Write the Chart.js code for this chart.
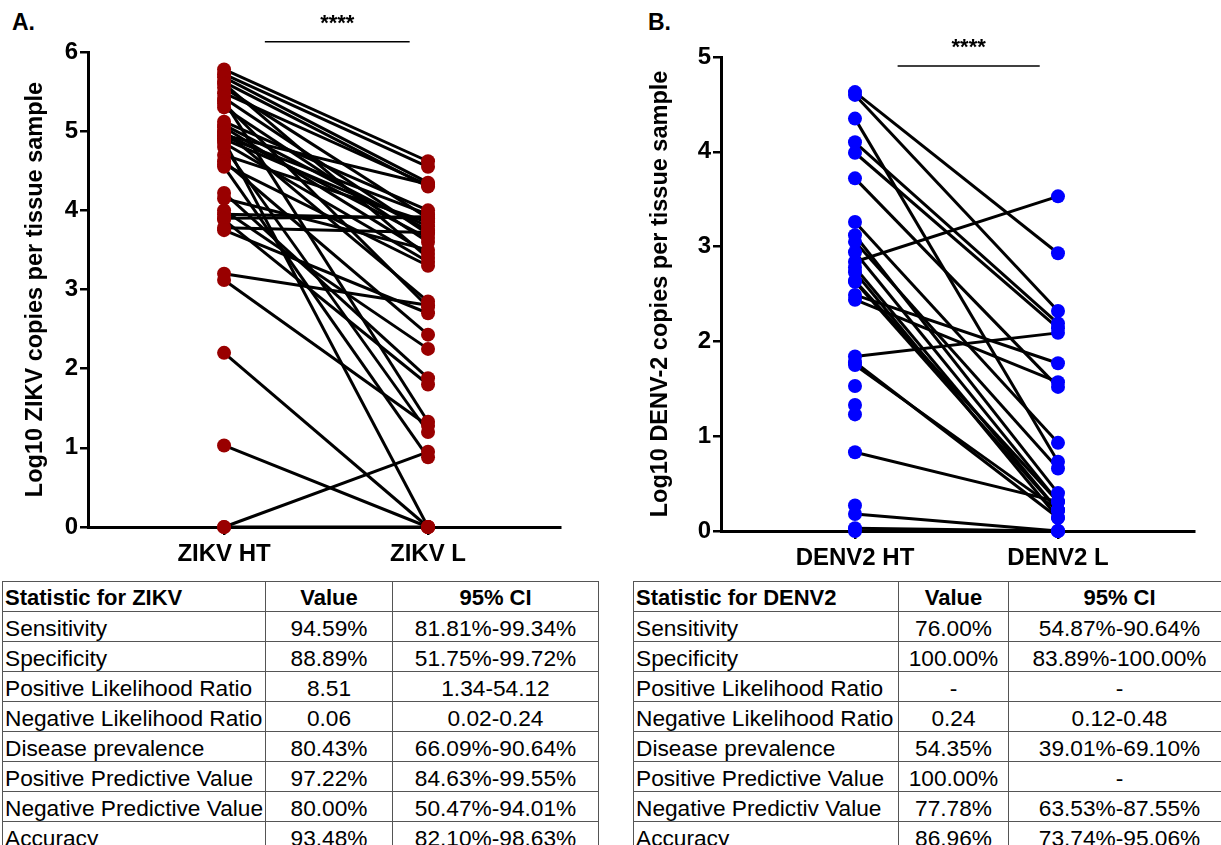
<!DOCTYPE html>
<html><head><meta charset="utf-8">
<script src="https://cdn.jsdelivr.net/npm/chart.js@4.4.0/dist/chart.umd.min.js"></script>
<style>
html,body{margin:0;padding:0;background:#fff;width:1221px;height:845px;overflow:hidden;position:relative;font-family:"Liberation Sans",Arial,sans-serif;color:#000;}
.panel{position:absolute;font-weight:bold;font-size:23px;line-height:23px;}
#wa{position:absolute;left:0;top:0;width:615px;height:575px;}
#wb{position:absolute;left:615px;top:0;width:606px;height:575px;}
table{position:absolute;border-collapse:collapse;table-layout:fixed;font-size:22.7px;}
td{border:1px solid #555;height:30px;padding:2px 2px 0 2px;line-height:22px;vertical-align:middle;white-space:nowrap;overflow:hidden;box-sizing:border-box;}
td.c{text-align:center;}
tr.h td{font-weight:bold;font-size:22px;}
</style>
</head><body>
<div class="panel" style="left:12px;top:11px;">A.</div>
<div class="panel" style="left:648px;top:11px;">B.</div>
<div id="wa"><canvas id="ca"></canvas></div>
<div id="wb"><canvas id="cb"></canvas></div>
<table id="ta" style="left:2px;top:581px;width:596px;"></table>
<table id="tb" style="left:633px;top:581px;width:597px;"></table>
<script>
// ---------- data ----------
const categoriesA = ['ZIKV HT', 'ZIKV L'];
const zikvHT = [5.78,5.72,5.68,5.62,5.55,5.48,5.42,5.38,5.30,5.12,5.05,5.00,4.95,4.93,4.90,4.88,4.85,4.80,4.70,4.62,4.58,4.55,4.22,4.15,4.00,3.95,3.90,3.88,3.78,3.75,3.20,3.12,2.20,1.03,0.00,0.00,5.60,5.08,4.98,5.35];
const zikvL  = [4.62,4.55,4.35,4.30,3.90,4.32,3.70,1.33,3.60,4.00,3.45,2.85,4.33,3.95,3.80,0.00,3.35,1.20,3.85,2.43,3.30,0.88,1.88,3.50,2.25,3.90,3.92,1.80,3.72,2.70,2.80,1.28,0.00,0.00,0.95,0.00,3.40,3.75,3.65,2.78];

const categoriesB = ['DENV2 HT', 'DENV2 L'];
const denvHT = [4.63,4.60,4.35,4.10,3.99,3.72,3.26,3.12,3.05,2.94,2.84,2.78,2.73,2.64,2.63,2.49,2.44,1.84,1.78,1.75,1.53,1.33,1.23,0.83,0.27,0.18,0.03,0.00];
const denvL  = [2.93,2.32,0.73,2.19,2.14,1.52,0.93,0.40,0.66,0.31,3.53,0.22,0.14,0.31,0.22,1.77,1.57,2.09,0.14,0.22,null,null,null,0.31,null,0.00,0.00,0.00];

const yTicksA = [0,1,2,3,4,5,6];
const yTicksB = [0,1,2,3,4,5];
const yTitleA = 'Log10 ZIKV copies per tissue sample';
const yTitleB = 'Log10 DENV-2 copies per tissue sample';
const sigA = {from:1.20, to:1.91, y:6.13, textY:6.36, label:'****'};
const sigB = {from:1.21, to:1.91, y:4.905, textY:5.10, label:'****'};

const statRowsZ = ['Sensitivity','Specificity','Positive Likelihood Ratio','Negative Likelihood Ratio','Disease prevalence','Positive Predictive Value','Negative Predictive Value','Accuracy'];
const statValsZ = ['94.59%','88.89%','8.51','0.06','80.43%','97.22%','80.00%','93.48%'];
const statCIZ   = ['81.81%-99.34%','51.75%-99.72%','1.34-54.12','0.02-0.24','66.09%-90.64%','84.63%-99.55%','50.47%-94.01%','82.10%-98.63%'];
const statRowsD = ['Sensitivity','Specificity','Positive Likelihood Ratio','Negative Likelihood Ratio','Disease prevalence','Positive Predictive Value','Negative Predictiv Value','Accuracy'];
const statValsD = ['76.00%','100.00%','-','0.24','54.35%','100.00%','77.78%','86.96%'];
const statCID   = ['54.87%-90.64%','83.89%-100.00%','-','0.12-0.48','39.01%-69.10%','-','63.53%-87.55%','73.74%-95.06%'];

// ---------- tables ----------
function buildTable(id, head, widths, names, vals, cis){
  const t = document.getElementById(id);
  let h = '<colgroup>' + widths.map(w=>'<col style="width:'+w+'px">').join('') + '</colgroup>';
  h += '<tr class="h"><td>'+head[0]+'</td><td class="c">'+head[1]+'</td><td class="c">'+head[2]+'</td></tr>';
  names.forEach((n,i)=>{ h += '<tr><td>'+n+'</td><td class="c">'+vals[i]+'</td><td class="c">'+cis[i]+'</td></tr>'; });
  t.innerHTML = h;
}
buildTable('ta', ['Statistic for ZIKV','Value','95% CI'], [263,127,206], statRowsZ, statValsZ, statCIZ);
buildTable('tb', ['Statistic for DENV2','Value','95% CI'], [265,110,222], statRowsD, statValsD, statCID);

// ---------- charts ----------
const FONT = '"Liberation Sans", Arial, sans-serif';
const sigPlugin = {
  id: 'sig',
  afterDatasetsDraw(chart, args, s){
    const {ctx, scales:{x, y}} = chart;
    ctx.save();
    ctx.strokeStyle = '#000'; ctx.lineWidth = 1.6;
    ctx.beginPath();
    ctx.moveTo(x.getPixelForValue(s.from), y.getPixelForValue(s.y));
    ctx.lineTo(x.getPixelForValue(s.to), y.getPixelForValue(s.y));
    ctx.stroke();
    ctx.fillStyle = '#000';
    ctx.font = 'bold 22px ' + FONT;
    ctx.textAlign = 'center'; ctx.textBaseline = 'middle';
    ctx.fillText(s.label, x.getPixelForValue((s.from+s.to)/2), y.getPixelForValue(s.textY));
    ctx.restore();
  }
};

function makeChart(canvasId, cats, ht, lv, color, yTicks, yTitle, sig, cfg){
  const datasets = [];
  const pts = [];
  ht.forEach((v,i)=>{ if (v !== null) pts.push({x:1, y:v}); });
  lv.forEach((v,i)=>{ if (v !== null) pts.push({x:2, y:v}); });
  datasets.push({data: pts, showLine:false, pointRadius:7, pointHoverRadius:7, backgroundColor:color, borderColor:color, borderWidth:0, order:-1, clip:false});
  ht.forEach((v,i)=>{
    if (v === null || lv[i] === null) return;
    datasets.push({data:[{x:1,y:v},{x:2,y:lv[i]}], showLine:true, borderColor:'#000', borderWidth:3, pointRadius:0, order:1, clip:false});
  });
  const yMax = yTicks[yTicks.length-1];
  return new Chart(document.getElementById(canvasId), {
    type: 'scatter',
    data: {datasets},
    plugins: [sigPlugin],
    options: {
      responsive: true, maintainAspectRatio: false, animation: false,
      layout: {padding: {top: cfg.top, right: cfg.right, left: 0, bottom: 0}},
      plugins: {legend:{display:false}, tooltip:{enabled:false}, sig: sig},
      scales: {
        x: {
          type: 'linear', min: cfg.xmin, max: cfg.xmax,
          afterBuildTicks: s => { s.ticks = [{value:1},{value:2}]; },
          afterFit: s => { s.height = cfg.xh; },
          ticks: {callback: v => cats[v-1], color:'#000', font:{family:FONT, size:24, weight:'bold'}, padding: 5, maxRotation:0, autoSkip:false},
          grid: {display:true, drawOnChartArea:false, drawTicks:true, tickLength:8, color:'#000', lineWidth:2.5},
          border: {display:true, color:'#000', width:3}
        },
        y: {
          min: 0, max: yMax,
          afterBuildTicks: s => { s.ticks = yTicks.map(v=>({value:v})); },
          afterFit: s => { s.width = cfg.yw; },
          ticks: {color:'#000', font:{family:FONT, size:24, weight:'bold'}, padding: 2},
          grid: {display:true, drawOnChartArea:false, drawTicks:true, tickLength:8, color:'#000', lineWidth:2.5},
          border: {display:true, color:'#000', width:3},
          title: {display:true, text:yTitle, color:'#000', font:{family:FONT, size:23.5, weight:'bold'}, padding:{top:cfg.tp, bottom:0}}
        }
      }
    }
  });
}

makeChart('ca', categoriesA, zikvHT, zikvL, '#990000', yTicksA, yTitleA, sigA,
  {top:52, right:55, xh:48, yw:88, xmin:0.333, xmax:2.647, tp:21});
makeChart('cb', categoriesB, denvHT, denvL, '#0000ff', yTicksB, yTitleB, sigB,
  {top:57, right:27, xh:44, yw:106, xmin:0.340, xmax:2.670, tp:31});
</script>
</body></html>
